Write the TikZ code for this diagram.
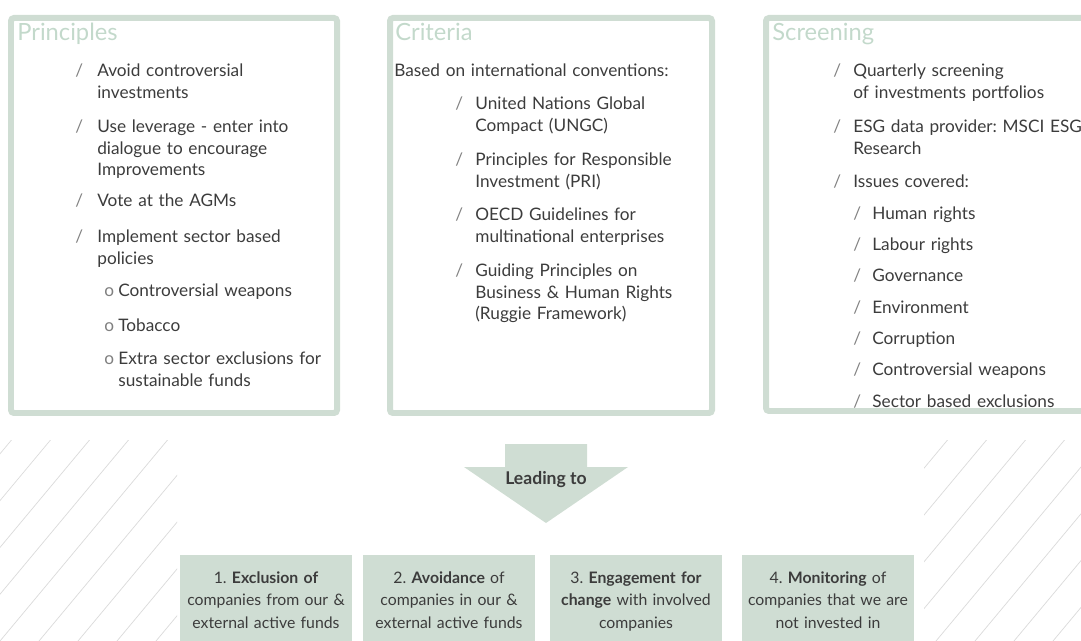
\documentclass[tikz,border=0pt]{standalone}
\usepackage{fontspec}
\setmainfont{Lato}
\usetikzlibrary{positioning}
\frenchspacing
\definecolor{ingsage}{HTML}{CFDDD3}
\definecolor{ingtitle}{HTML}{C3D9CB}
\definecolor{ingtext}{HTML}{3C3C3C}
\definecolor{inghatch}{HTML}{DADADA}
\tikzset{itemmark/.style={anchor=base west, inner sep=0pt, text=gray,
                          font=\fontsize{9.8}{12}\selectfont},
         itemtext/.style={itemmark, text width=7cm, align=left, text=ingtext}}
% one list entry: name, mark, mark x, text x, baseline y, text
\newcommand{\listitem}[6]{%
  \node[itemmark] (#1-mark) at (#3,#5) {#2};
  \node[itemtext] (#1) at (#4,#5) {#6};}

\begin{document}
\begin{tikzpicture}[x=0.02cm, y=-0.02cm,
                    panel/.style = {draw=ingsage, line width=0.12cm, rounded corners=0.06cm},
                    paneltitle/.style = {anchor=base west, inner sep=0pt, text=ingtitle,
                                         font=\fontsize{13.5}{15}\selectfont},
                    outcome/.style = {anchor=north, fill=ingsage, inner sep=0pt, text width=3.44cm,
                                      align=center, text height=0.56cm, text depth=1.8cm, text=ingtext,
                                      font=\fontsize{9}{12.8}\selectfont},
                    hatch/.style = {draw=inghatch, line width=0.4pt},
                    leadarrow/.style = {fill=ingsage}]
    \useasboundingbox (0,0) rectangle (1081,641);
    \clip (0,0) rectangle (1081,641);
    %hatched corners
    \begin{scope}
        \clip (0,440) rectangle (177,641);
        \foreach \k in {-6,...,6}
        \draw[hatch] ({\k*39},641) -- ++(200,-240);
    \end{scope}
    \begin{scope}
        \clip (924,440) rectangle (1081,641);
        \foreach \k in {18,...,30}
        \draw[hatch] ({\k*39},641) -- ++(200,-240);
    \end{scope}
    %panels
    \draw[panel] (11,18) rectangle (337,413);
    \draw[panel] (390,18) rectangle (712,413);
    \draw[panel] (766,18) rectangle (1110,411);
    \node[paneltitle] (principles) at (17,41) {Principles};
    \node[paneltitle] (criteria) at (395,41) {Criteria};
    \node[paneltitle] (screening) at (772,41) {Screening};
    %principles
    \listitem{p1}{/}{75}{97}{77}{Avoid controversial\\investments}
    \listitem{p2}{/}{75}{97}{133}{Use leverage - enter into\\dialogue to encourage\\Improvements}
    \listitem{p3}{/}{75}{97}{207}{Vote at the AGMs}
    \listitem{p4}{/}{75}{97}{243}{Implement sector based\\policies}
    \listitem{p4a}{o}{104}{118}{297}{Controversial weapons}
    \listitem{p4b}{o}{104}{118}{332}{Tobacco}
    \listitem{p4c}{o}{104}{118}{365}{Extra sector exclusions for\\sustainable funds}
    %criteria
    \node[itemtext] (based) at (394,77) {Based on international conventions:};
    \listitem{c1}{/}{455}{475}{110}{United Nations Global\\Compact (UNGC)}
    \listitem{c2}{/}{455}{475}{166}{Principles for Responsible\\Investment (PRI)}
    \listitem{c3}{/}{455}{475}{221}{OECD Guidelines for\\multinational enterprises}
    \listitem{c4}{/}{455}{475}{277}{Guiding Principles on\\Business \& Human Rights\\(Ruggie Framework)}
    %screening
    \listitem{s1}{/}{833}{853}{77}{Quarterly screening\\of investments portfolios}
    \listitem{s2}{/}{833}{853}{133}{ESG data provider: MSCI ESG\\Research}
    \listitem{s3}{/}{833}{853}{188}{Issues covered:}
    \listitem{s3a}{/}{853}{872}{220}{Human rights}
    \listitem{s3b}{/}{853}{872}{251}{Labour rights}
    \listitem{s3c}{/}{853}{872}{282}{Governance}
    \listitem{s3d}{/}{853}{872}{314}{Environment}
    \listitem{s3e}{/}{853}{872}{345}{Corruption}
    \listitem{s3f}{/}{853}{872}{376}{Controversial weapons}
    \listitem{s3g}{/}{853}{872}{408}{Sector based exclusions}
    %leading arrow
    \fill[leadarrow] (505,444) -- (587,444) -- (587,467) -- (628,467) -- (546,523)
                     -- (464,467) -- (505,467) -- cycle;
    \node[font=\fontsize{10}{12}\selectfont\bfseries, text=ingtext] (leading) at (546,480) {Leading to};
    %outcomes
    \node[outcome] (exclusion) at (266,555) {1. \textbf{Exclusion of}\\companies from our \&\\external active funds};
    \node[outcome] (avoidance) at (449,555) {2. \textbf{Avoidance} of\\companies in our \&\\external active funds};
    \node[outcome] (engagement) at (636,555) {3. \textbf{Engagement for}\\\textbf{change} with involved\\companies};
    \node[outcome] (monitoring) at (828,555) {4. \textbf{Monitoring} of\\companies that we are\\not invested in};
\end{tikzpicture}
\end{document}
